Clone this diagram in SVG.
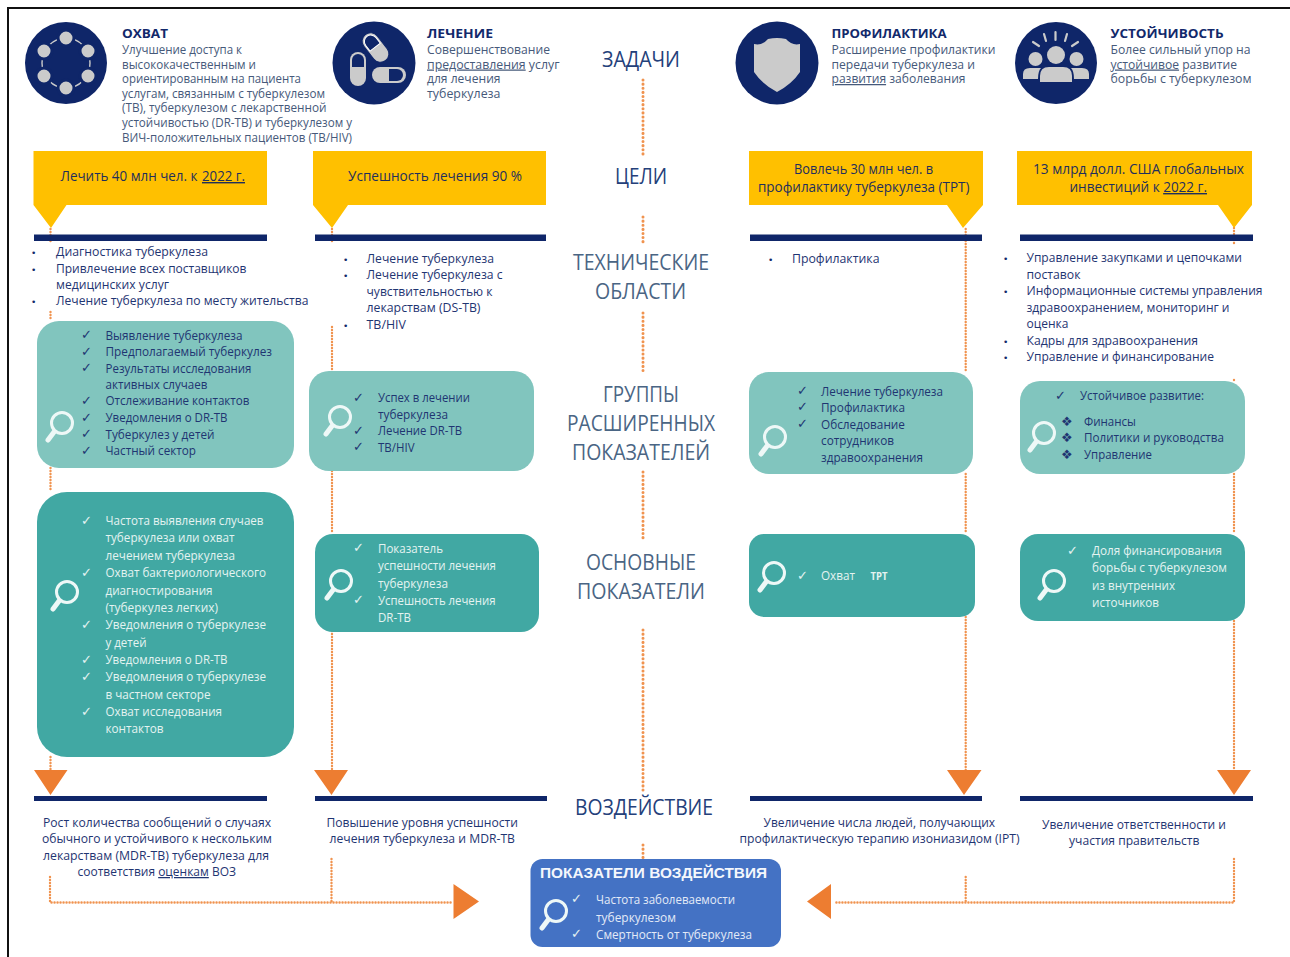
<svg xmlns="http://www.w3.org/2000/svg" xmlns:xlink="http://www.w3.org/1999/xlink" width="1290" height="957" viewBox="0 0 1290 957">
<style>
text{font-family:"Open Sans","Noto Sans","Liberation Sans",sans-serif;font-size:12.5px;fill:#1f3572}
.h{font-weight:700;font-size:13px;fill:#12296b}
.d{fill:#46597a}
.b{font-size:14px;fill:#1f2f5c}
.c{font-size:22px;fill:#24407a}
.c2{font-size:22px;fill:#4a6584}
.w{fill:#e4f3f1}
.wb{fill:#e3eaf7}
.k{font-family:"DejaVu Sans",sans-serif;font-size:13px;fill:#1f3572;transform:translate(-1px,1px)}
.kw{font-family:"DejaVu Sans",sans-serif;font-size:13px;fill:#e4f3f1;transform:translate(-1px,1px)}
.p{font-family:"DejaVu Sans",sans-serif;font-size:9px;fill:#12296b}
.u{text-decoration:underline}
.navy{fill:#0f2669}
.yel{fill:#ffc000}
.lt{fill:#81c5be}
.dk{fill:#41a8a3}
.gr{fill:#cbcbcb}
.or{fill:#ed7d31}
.dot{stroke:#f0934f;stroke-width:2.4;stroke-dasharray:0.1 2.900;stroke-linecap:round;fill:none}
.dotc{stroke:#f0934f;stroke-width:3;stroke-dasharray:0.1 4;stroke-linecap:round;fill:none}
</style>
<defs>
<g id="mag" fill="none" stroke="#eef8f7">
<circle r="10.5" stroke-width="3"/>
<path d="M-8 9L-14 17" stroke-width="5" stroke-linecap="round"/>
</g>
</defs>
<path id="frame" d="M8 957V8H1290" fill="none" stroke="#111" stroke-width="2"/>

<g id="connectors">
<path class="dotc" d="M643 80V156M643 217V243M643 313V373M643 472V541M643 630V790M643 845V858"/>
<path class="dot" d="M50.5 229V243M50.5 312V321M50.5 468V492M50.5 757V771M332 229V243M332 327V371M332 471V534M332 631V771M965.7 229V372M965.7 474V534M965.7 617V771M1234 228V244M1234 380V382M1234 474V534M1234 621V771"/>
<path class="dot" d="M50 877V902.5H452M331.5 859V902.5M965.7 877V902.5M1234 859V902.5H835"/>
<path class="or" d="M34 770H67.5L50.5 795ZM314 770H348L331.5 795ZM947 770H981.5L964 795ZM1217 770H1251L1234 795ZM453.5 884V919L479 901.5ZM831 884V919L807 901.5Z"/>
</g>

<g id="task-coverage">
<circle class="navy" cx="66" cy="63" r="41"/>
<ellipse cx="66" cy="63" rx="24" ry="25" fill="none" stroke="#cbcbcb" stroke-width="1.4"/>
<g class="gr" stroke="#0f2669" stroke-width="3"><circle cx="66" cy="38" r="8"/><circle cx="88" cy="51" r="8"/><circle cx="88" cy="76" r="8"/><circle cx="66" cy="88" r="8"/><circle cx="44" cy="76" r="8"/><circle cx="44" cy="51" r="8"/></g>
<text class="h" x="122" y="38" textLength="46" lengthAdjust="spacingAndGlyphs">ОХВАТ</text>
<text class="d" x="122" y="54" textLength="120" lengthAdjust="spacingAndGlyphs">Улучшение доступа к</text>
<text class="d" x="122" y="68.500" textLength="134" lengthAdjust="spacingAndGlyphs">высококачественным и</text>
<text class="d" x="122" y="83" textLength="179" lengthAdjust="spacingAndGlyphs">ориентированным на пациента</text>
<text class="d" x="122" y="97.500" textLength="203" lengthAdjust="spacingAndGlyphs">услугам, связанным с туберкулезом</text>
<text class="d" x="122" y="112" textLength="204.500" lengthAdjust="spacingAndGlyphs">(ТВ), туберкулезом с лекарственной</text>
<text class="d" x="122" y="127" textLength="230" lengthAdjust="spacingAndGlyphs">устойчивостью (DR-TB) и туберкулезом у</text>
<text class="d" x="122" y="141.500" textLength="230" lengthAdjust="spacingAndGlyphs">ВИЧ-положительных пациентов (TB/HIV)</text>
</g>

<g id="task-treatment">
<circle class="navy" cx="374" cy="63" r="41.5"/>
<g transform="rotate(-38 375.500 47.500)"><rect x="367" y="31" width="17" height="33" rx="8.500" class="gr" stroke="#0f2669" stroke-width="1"/><path d="M369 47V40a6.500 6.500 0 0 1 13 0V47Z" class="navy" stroke="#fff" stroke-width="1"/></g>
<rect x="350" y="52" width="16" height="34" rx="8" class="gr"/><path d="M352 67V60a6 6 0 0 1 12 0V67Z" class="navy"/>
<rect x="372" y="67" width="34" height="16" rx="8" class="gr"/><path d="M389 69H397a6 6 0 0 1 0 12H389Z" class="navy"/>
<text class="h" x="427" y="38" textLength="66" lengthAdjust="spacingAndGlyphs">ЛЕЧЕНИЕ</text>
<text class="d" x="427" y="54" textLength="123" lengthAdjust="spacingAndGlyphs">Совершенствование</text>
<text class="d" x="427" y="68.500" textLength="132.500" lengthAdjust="spacingAndGlyphs"><tspan class="u">предоставления</tspan> услуг</text>
<text class="d" x="427" y="83" textLength="73.500" lengthAdjust="spacingAndGlyphs">для лечения</text>
<text class="d" x="427" y="97.500" textLength="73.500" lengthAdjust="spacingAndGlyphs">туберкулеза</text>
</g>

<g id="task-prevention">
<circle class="navy" cx="777" cy="63" r="41.5"/>
<path class="gr" d="M754 44Q762 46 768 39Q777 37 786 39Q792 46 800 44V72Q792 84 777 92Q762 84 754 72Z"/>
<text class="h" x="831.500" y="38" textLength="115" lengthAdjust="spacingAndGlyphs">ПРОФИЛАКТИКА</text>
<text class="d" x="831.500" y="54" textLength="164" lengthAdjust="spacingAndGlyphs">Расширение профилактики</text>
<text class="d" x="831.500" y="68.500" textLength="143.500" lengthAdjust="spacingAndGlyphs">передачи туберкулеза и</text>
<text class="d" x="831.500" y="83" textLength="134" lengthAdjust="spacingAndGlyphs"><tspan class="u">развития</tspan> заболевания</text>
</g>

<g id="task-sustainability">
<circle class="navy" cx="1056" cy="63" r="41"/>
<g class="gr"><circle cx="1056" cy="55" r="9"/><circle cx="1035.500" cy="59" r="7"/><circle cx="1076.500" cy="59" r="7"/>
<path d="M1040 82V76Q1040 67 1049 67H1063Q1072 67 1072 76V82Z"/><path d="M1023 79V74Q1023 68 1030 68H1041Q1038 71 1038 79Z"/><path d="M1089 79V74Q1089 68 1082 68H1071Q1074 71 1074 79Z"/></g>
<path d="M1055.500 32V40M1044 34L1046 41M1067 34L1065 41M1033 42L1039 46M1078 42L1072 46" stroke="#cbcbcb" stroke-width="2.200" stroke-linecap="round" fill="none"/>
<text class="h" x="1110.500" y="38" textLength="113" lengthAdjust="spacingAndGlyphs">УСТОЙЧИВОСТЬ</text>
<text class="d" x="1110.500" y="54" textLength="140" lengthAdjust="spacingAndGlyphs">Более сильный упор на</text>
<text class="d" x="1110.500" y="68.500" textLength="126.500" lengthAdjust="spacingAndGlyphs"><tspan class="u">устойчивое</tspan> развитие</text>
<text class="d" x="1110.500" y="83" textLength="141" lengthAdjust="spacingAndGlyphs">борьбы с туберкулезом</text>
</g>

<g id="labels">
<text class="c" x="602" y="67" textLength="78" lengthAdjust="spacingAndGlyphs">ЗАДАЧИ</text>
<text class="c" x="615" y="184" textLength="52" lengthAdjust="spacingAndGlyphs">ЦЕЛИ</text>
<text class="c2" x="573" y="270" textLength="136" lengthAdjust="spacingAndGlyphs">ТЕХНИЧЕСКИЕ</text>
<text class="c2" x="595" y="299" textLength="91" lengthAdjust="spacingAndGlyphs">ОБЛАСТИ</text>
<text class="c2" x="603" y="402" textLength="76" lengthAdjust="spacingAndGlyphs">ГРУППЫ</text>
<text class="c2" x="567" y="431" textLength="148" lengthAdjust="spacingAndGlyphs">РАСШИРЕННЫХ</text>
<text class="c2" x="572" y="460" textLength="138" lengthAdjust="spacingAndGlyphs">ПОКАЗАТЕЛЕЙ</text>
<text class="c2" x="586" y="570" textLength="110" lengthAdjust="spacingAndGlyphs">ОСНОВНЫЕ</text>
<text class="c2" x="577" y="599" textLength="128" lengthAdjust="spacingAndGlyphs">ПОКАЗАТЕЛИ</text>
<text class="c" x="575" y="815" textLength="138" lengthAdjust="spacingAndGlyphs">ВОЗДЕЙСТВИЕ</text>
</g>

<g id="goal-1"><path class="yel" d="M33.500 151H267V205H66.500L51 228L33.500 205Z"/>
<text class="b" x="60.500" y="181" textLength="137" lengthAdjust="spacingAndGlyphs">Лечить 40 млн чел. к</text>
<text class="b u" x="202" y="181" textLength="43" lengthAdjust="spacingAndGlyphs">2022 г.</text></g>
<g id="goal-2"><path class="yel" d="M313 151H546V205H348L332 228L313 205Z"/>
<text class="b" x="348" y="181" textLength="174" lengthAdjust="spacingAndGlyphs">Успешность лечения 90 %</text></g>
<g id="goal-3"><path class="yel" d="M749 151H983V205L963 228L947 205H749Z"/>
<text class="b" x="794" y="174" textLength="139" lengthAdjust="spacingAndGlyphs">Вовлечь 30 млн чел. в</text>
<text class="b" x="758" y="192" textLength="211.500" lengthAdjust="spacingAndGlyphs">профилактику туберкулеза (TPT)</text></g>
<g id="goal-4"><path class="yel" d="M1017 151H1252V205L1234 228L1218 205H1017Z"/>
<text class="b" x="1033" y="174" textLength="211" lengthAdjust="spacingAndGlyphs">13 млрд долл. США глобальных</text>
<text class="b" x="1069.500" y="192" textLength="137.500" lengthAdjust="spacingAndGlyphs">инвестиций к <tspan class="u">2022 г.</tspan></text></g>

<g id="bars" class="navy">
<rect x="34" y="234.500" width="233" height="6.500"/><rect x="315" y="234.500" width="231" height="6.500"/><rect x="750" y="234.500" width="232" height="6.500"/><rect x="1020" y="234.500" width="233" height="6.500"/>
<rect x="34" y="796" width="233" height="5"/><rect x="315" y="796" width="232" height="5"/><rect x="750" y="796" width="232" height="5"/><rect x="1020" y="796" width="233" height="5"/>
</g>

<g id="areas-1">
<text class="p" x="31" y="256">•</text><text class="p" x="31" y="272.500">•</text><text class="p" x="31" y="305">•</text>
<text x="56" y="256" textLength="152" lengthAdjust="spacingAndGlyphs">Диагностика туберкулеза</text>
<text x="56" y="272.500" textLength="190.500" lengthAdjust="spacingAndGlyphs">Привлечение всех поставщиков</text>
<text x="56" y="288.500" textLength="113" lengthAdjust="spacingAndGlyphs">медицинских услуг</text>
<text x="56" y="305" textLength="252.500" lengthAdjust="spacingAndGlyphs">Лечение туберкулеза по месту жительства</text>
</g>
<g id="areas-2">
<text class="p" x="343" y="263">•</text><text class="p" x="343" y="279">•</text><text class="p" x="343" y="328.500">•</text>
<text x="366.500" y="263" textLength="127.500" lengthAdjust="spacingAndGlyphs">Лечение туберкулеза</text>
<text x="366.500" y="279" textLength="136" lengthAdjust="spacingAndGlyphs">Лечение туберкулеза с</text>
<text x="366.500" y="296" textLength="126" lengthAdjust="spacingAndGlyphs">чувствительностью к</text>
<text x="366.500" y="312" textLength="114" lengthAdjust="spacingAndGlyphs">лекарствам (DS-TB)</text>
<text x="366.500" y="328.500" textLength="39.500" lengthAdjust="spacingAndGlyphs">TB/HIV</text>
</g>
<g id="areas-3">
<text class="p" x="768" y="263">•</text>
<text x="792" y="263" textLength="87.500" lengthAdjust="spacingAndGlyphs">Профилактика</text>
</g>
<g id="areas-4">
<text class="p" x="1003" y="262">•</text><text class="p" x="1003" y="295">•</text><text class="p" x="1003" y="345">•</text><text class="p" x="1003" y="361">•</text>
<text x="1026.500" y="262" textLength="215.500" lengthAdjust="spacingAndGlyphs">Управление закупками и цепочками</text>
<text x="1026.500" y="279" textLength="54" lengthAdjust="spacingAndGlyphs">поставок</text>
<text x="1026.500" y="295" textLength="236" lengthAdjust="spacingAndGlyphs">Информационные системы управления</text>
<text x="1026.500" y="312" textLength="203" lengthAdjust="spacingAndGlyphs">здравоохранением, мониторинг и</text>
<text x="1026.500" y="328" textLength="42" lengthAdjust="spacingAndGlyphs">оценка</text>
<text x="1026.500" y="345" textLength="171.500" lengthAdjust="spacingAndGlyphs">Кадры для здравоохранения</text>
<text x="1026.500" y="361" textLength="187.500" lengthAdjust="spacingAndGlyphs">Управление и финансирование</text>
</g>

<g id="extended-1">
<rect class="lt" x="37" y="321" width="257" height="147" rx="22"/>
<use xlink:href="#mag" href="#mag" x="62" y="423"/>
<text class="k" x="82" y="338">✓</text><text class="k" x="82" y="355">✓</text><text class="k" x="82" y="371">✓</text><text class="k" x="82" y="404">✓</text><text class="k" x="82" y="421">✓</text><text class="k" x="82" y="437">✓</text><text class="k" x="82" y="454">✓</text>
<text x="105.500" y="339.500" textLength="137" lengthAdjust="spacingAndGlyphs">Выявление туберкулеза</text>
<text x="105.500" y="356" textLength="166.500" lengthAdjust="spacingAndGlyphs">Предполагаемый туберкулез</text>
<text x="105.500" y="372.500" textLength="146" lengthAdjust="spacingAndGlyphs">Результаты исследования</text>
<text x="105.500" y="389" textLength="102" lengthAdjust="spacingAndGlyphs">активных случаев</text>
<text x="105.500" y="405" textLength="144" lengthAdjust="spacingAndGlyphs">Отслеживание контактов</text>
<text x="105.500" y="422" textLength="122" lengthAdjust="spacingAndGlyphs">Уведомления о DR-TB</text>
<text x="105.500" y="438.500" textLength="109" lengthAdjust="spacingAndGlyphs">Туберкулез у детей</text>
<text x="105.500" y="455" textLength="90.500" lengthAdjust="spacingAndGlyphs">Частный сектор</text>
</g>
<g id="core-1">
<rect class="dk" x="37" y="492" width="257" height="265" rx="30"/>
<use xlink:href="#mag" href="#mag" x="67" y="592"/>
<text class="kw" x="82" y="524">✓</text><text class="kw" x="82" y="576">✓</text><text class="kw" x="82" y="628">✓</text><text class="kw" x="82" y="663">✓</text><text class="kw" x="82" y="680">✓</text><text class="kw" x="82" y="715">✓</text>
<text class="w" x="105.500" y="525" textLength="158" lengthAdjust="spacingAndGlyphs">Частота выявления случаев</text>
<text class="w" x="105.500" y="542" textLength="129" lengthAdjust="spacingAndGlyphs">туберкулеза или охват</text>
<text class="w" x="105.500" y="560" textLength="129.500" lengthAdjust="spacingAndGlyphs">лечением туберкулеза</text>
<text class="w" x="105.500" y="577" textLength="160.500" lengthAdjust="spacingAndGlyphs">Охват бактериологического</text>
<text class="w" x="105.500" y="594.500" textLength="107" lengthAdjust="spacingAndGlyphs">диагностирования</text>
<text class="w" x="105.500" y="612" textLength="112.500" lengthAdjust="spacingAndGlyphs">(туберкулез легких)</text>
<text class="w" x="105.500" y="629" textLength="160.500" lengthAdjust="spacingAndGlyphs">Уведомления о туберкулезе</text>
<text class="w" x="105.500" y="647" textLength="41" lengthAdjust="spacingAndGlyphs">у детей</text>
<text class="w" x="105.500" y="664" textLength="122" lengthAdjust="spacingAndGlyphs">Уведомления о DR-TB</text>
<text class="w" x="105.500" y="681" textLength="160.500" lengthAdjust="spacingAndGlyphs">Уведомления о туберкулезе</text>
<text class="w" x="105.500" y="698.500" textLength="105" lengthAdjust="spacingAndGlyphs">в частном секторе</text>
<text class="w" x="105.500" y="716" textLength="116.500" lengthAdjust="spacingAndGlyphs">Охват исследования</text>
<text class="w" x="105.500" y="733" textLength="58" lengthAdjust="spacingAndGlyphs">контактов</text>
</g>
<g id="extended-2">
<rect class="lt" x="309" y="371" width="225" height="100" rx="20"/>
<use xlink:href="#mag" href="#mag" x="340" y="417"/>
<text class="k" x="354" y="401">✓</text><text class="k" x="354" y="434">✓</text><text class="k" x="354" y="450">✓</text>
<text x="378" y="402" textLength="92" lengthAdjust="spacingAndGlyphs">Успех в лечении</text>
<text x="378" y="419" textLength="70" lengthAdjust="spacingAndGlyphs">туберкулеза</text>
<text x="378" y="435" textLength="84" lengthAdjust="spacingAndGlyphs">Лечение DR-TB</text>
<text x="378" y="451.500" textLength="36.500" lengthAdjust="spacingAndGlyphs">TB/HIV</text>
</g>
<g id="core-2">
<rect class="dk" x="315" y="534" width="224" height="98" rx="18"/>
<use xlink:href="#mag" href="#mag" x="341" y="581"/>
<text class="kw" x="354" y="551">✓</text><text class="kw" x="354" y="603">✓</text>
<text class="w" x="378" y="553" textLength="65" lengthAdjust="spacingAndGlyphs">Показатель</text>
<text class="w" x="378" y="570" textLength="118" lengthAdjust="spacingAndGlyphs">успешности лечения</text>
<text class="w" x="378" y="587.500" textLength="70" lengthAdjust="spacingAndGlyphs">туберкулеза</text>
<text class="w" x="378" y="605" textLength="117.500" lengthAdjust="spacingAndGlyphs">Успешность лечения</text>
<text class="w" x="378" y="622" textLength="33" lengthAdjust="spacingAndGlyphs">DR-TB</text>
</g>
<g id="extended-3">
<rect class="lt" x="749" y="372" width="224" height="102" rx="20"/>
<use xlink:href="#mag" href="#mag" x="775" y="437"/>
<text class="k" x="798" y="394">✓</text><text class="k" x="798" y="410">✓</text><text class="k" x="798" y="427">✓</text>
<text x="821" y="396" textLength="122" lengthAdjust="spacingAndGlyphs">Лечение туберкулеза</text>
<text x="821" y="412" textLength="84" lengthAdjust="spacingAndGlyphs">Профилактика</text>
<text x="821" y="429" textLength="84" lengthAdjust="spacingAndGlyphs">Обследование</text>
<text x="821" y="445" textLength="73" lengthAdjust="spacingAndGlyphs">сотрудников</text>
<text x="821" y="462" textLength="102" lengthAdjust="spacingAndGlyphs">здравоохранения</text>
</g>
<g id="core-3">
<rect class="dk" x="749" y="534" width="226" height="83" rx="15"/>
<use xlink:href="#mag" href="#mag" x="774" y="573"/>
<text class="kw" x="798" y="579">✓</text>
<text class="w" x="821" y="580" textLength="34" lengthAdjust="spacingAndGlyphs">Охват</text>
<text class="w" x="870.500" y="580" textLength="17" lengthAdjust="spacingAndGlyphs" style="font-weight:700;font-size:10px">TPT</text>
</g>
<g id="extended-4">
<rect class="lt" x="1020" y="381" width="225" height="93" rx="20"/>
<use xlink:href="#mag" href="#mag" x="1044" y="433"/>
<text class="k" x="1056" y="399">✓</text>
<text class="k" x="1062" y="425">❖</text><text class="k" x="1062" y="441">❖</text><text class="k" x="1062" y="458">❖</text>
<text x="1080" y="400" textLength="124" lengthAdjust="spacingAndGlyphs">Устойчивое развитие:</text>
<text x="1084" y="426" textLength="52" lengthAdjust="spacingAndGlyphs">Финансы</text>
<text x="1084" y="442" textLength="140" lengthAdjust="spacingAndGlyphs">Политики и руководства</text>
<text x="1084" y="459" textLength="68" lengthAdjust="spacingAndGlyphs">Управление</text>
</g>
<g id="core-4">
<rect class="dk" x="1020" y="534" width="225" height="87" rx="18"/>
<use xlink:href="#mag" href="#mag" x="1054" y="581"/>
<text class="kw" x="1068" y="554">✓</text>
<text class="w" x="1092" y="555" textLength="130" lengthAdjust="spacingAndGlyphs">Доля финансирования</text>
<text class="w" x="1092" y="572" textLength="135" lengthAdjust="spacingAndGlyphs">борьбы с туберкулезом</text>
<text class="w" x="1092" y="590" textLength="83" lengthAdjust="spacingAndGlyphs">из внутренних</text>
<text class="w" x="1092" y="607" textLength="67" lengthAdjust="spacingAndGlyphs">источников</text>
</g>

<g id="impact-1">
<text x="43" y="826.500" textLength="228" lengthAdjust="spacingAndGlyphs">Рост количества сообщений о случаях</text>
<text x="42" y="843" textLength="230" lengthAdjust="spacingAndGlyphs">обычного и устойчивого к нескольким</text>
<text x="43" y="859.500" textLength="226" lengthAdjust="spacingAndGlyphs">лекарствам (MDR-TB) туберкулеза для</text>
<text x="77.500" y="876" textLength="158.500" lengthAdjust="spacingAndGlyphs">соответствия <tspan class="u">оценкам</tspan> ВОЗ</text>
</g>
<g id="impact-2">
<text x="326.500" y="826.500" textLength="191.500" lengthAdjust="spacingAndGlyphs">Повышение уровня успешности</text>
<text x="329.500" y="843" textLength="185.500" lengthAdjust="spacingAndGlyphs">лечения туберкулеза и MDR-TB</text>
</g>
<g id="impact-3">
<text x="763.500" y="826.500" textLength="231.500" lengthAdjust="spacingAndGlyphs">Увеличение числа людей, получающих</text>
<text x="739.500" y="843" textLength="280" lengthAdjust="spacingAndGlyphs">профилактическую терапию изониазидом (IPT)</text>
</g>
<g id="impact-4">
<text x="1042" y="828.500" textLength="184" lengthAdjust="spacingAndGlyphs">Увеличение ответственности и</text>
<text x="1069" y="845" textLength="130.500" lengthAdjust="spacingAndGlyphs">участия правительств</text>
</g>

<g id="impact-indicators">
<rect x="530.500" y="859" width="250.500" height="88" rx="12" fill="#4472c4"/>
<use xlink:href="#mag" href="#mag" x="556" y="911"/>
<text x="540" y="877.700" textLength="227" lengthAdjust="spacingAndGlyphs" style="font-family:'Liberation Sans',sans-serif;font-weight:700;font-size:15px;fill:#f4f7fc">ПОКАЗАТЕЛИ ВОЗДЕЙСТВИЯ</text>
<text class="kw" x="572" y="902">✓</text><text class="kw" x="572" y="937">✓</text>
<text class="wb" x="596" y="904" textLength="139" lengthAdjust="spacingAndGlyphs">Частота заболеваемости</text>
<text class="wb" x="596" y="921.500" textLength="80" lengthAdjust="spacingAndGlyphs">туберкулезом</text>
<text class="wb" x="596" y="939" textLength="156" lengthAdjust="spacingAndGlyphs">Смертность от туберкулеза</text>
</g>
</svg>
